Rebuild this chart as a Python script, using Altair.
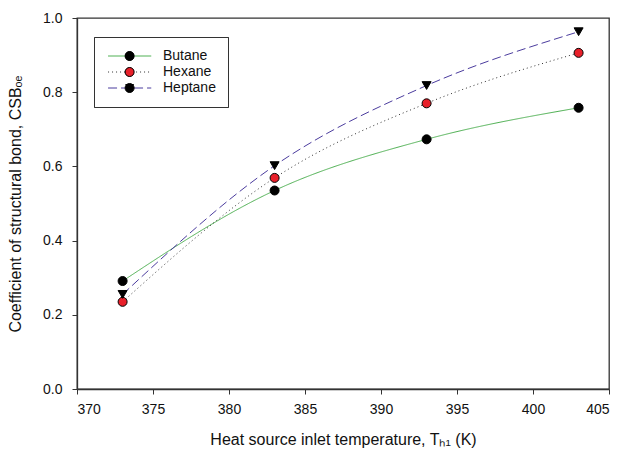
import altair as alt
import pandas as pd

temps = [373, 383, 393, 403]
butane = [0.291, 0.535, 0.673, 0.758]
hexane = [0.235, 0.569, 0.770, 0.906]
heptane = [0.255, 0.602, 0.818, 0.963]
series = ["Butane", "Hexane", "Heptane"]

line_colors = ["#4caf50", "#333333", "#4b3c9e"]
line_dashes = [[1, 0], [1, 3], [9, 4]]
marker_fills = ["#000000", "#e8202a", "#000000"]
marker_shapes = ["circle", "circle", "triangle-down"]

rows = []
for name, vals in zip(series, [butane, hexane, heptane]):
    for t, v in zip(temps, vals):
        rows.append({"T": t, "CSB": v, "Series": name, "Marker": name})
df = pd.DataFrame(rows)

FONT = "Liberation Sans"

# legend line colour looked up per entry
color_expr = " : ".join(
    f"datum.value === '{s}' ? '{c}'" for s, c in zip(series[:-1], line_colors[:-1])
) + f" : '{line_colors[-1]}'"

x = alt.X(
    "T:Q",
    scale=alt.Scale(domain=[370, 405], nice=False, zero=False),
    axis=alt.Axis(
        values=list(range(370, 406, 5)),
        title="Heat source inlet temperature, Tₕ₁ (K)",
        labelPadding=8,
        titlePadding=15,
    ),
)
y = alt.Y(
    "CSB:Q",
    scale=alt.Scale(domain=[0, 1], nice=False),
    axis=alt.Axis(
        values=[0, 0.2, 0.4, 0.6, 0.8, 1.0],
        format=".1f",
        title="Coefficient of structural bond, CSBₒₑ",
        labelPadding=10,
        titlePadding=19,
    ),
)

LX, LY = 17, 19

line_legend = alt.Legend(
    orient="none",
    legendX=LX,
    legendY=LY,
    title=None,
    symbolType="M-1.1,0H8.5",
    symbolSize=81,
    symbolStrokeWidth=1,
    symbolStrokeColor=alt.ExprRef(expr=color_expr),
    labelFont=FONT,
    labelFontSize=14,
    labelColor="#111111",
    labelOffset=43,
    strokeColor="#333333",
    fillColor="white",
    padding=12,
    rowPadding=2,
)

point_legend = alt.Legend(
    orient="none",
    legendX=LX + 16.6,
    legendY=LY,
    title=None,
    labelExpr="' '",
    symbolSize=81,
    symbolStrokeColor="black",
    symbolStrokeWidth=1,
    labelFontSize=14,
    labelOffset=26,
    padding=12,
    rowPadding=2,
)

lines = alt.Chart(df).mark_line(interpolate="monotone", strokeWidth=1).encode(
    x=x,
    y=y,
    color=alt.Color("Series:N", sort=series,
                    scale=alt.Scale(range=line_colors), legend=line_legend),
    strokeDash=alt.StrokeDash("Series:N", sort=series,
                              scale=alt.Scale(range=line_dashes), legend=line_legend),
)

points = alt.Chart(df).mark_point(filled=True, size=81, stroke="black", strokeWidth=1, opacity=1).encode(
    x=x,
    y=y,
    fill=alt.Fill("Marker:N", sort=series,
                  scale=alt.Scale(range=marker_fills), legend=point_legend),
    shape=alt.Shape("Marker:N", sort=series,
                    scale=alt.Scale(range=marker_shapes), legend=point_legend),
)

chart = alt.layer(lines, points).properties(
    width=532,
    height=371,
    autosize=alt.AutoSizeParams(type="none"),
    padding={"left": 69, "top": 10, "right": 23, "bottom": 65},
    background="white",
).configure_view(
    stroke="#333333", strokeWidth=1.3
).configure_axis(
    grid=False,
    domainColor="#333333",
    domainWidth=1.3,
    tickColor="#333333",
    tickSize=5,
    labelFont=FONT,
    labelFontSize=14,
    labelColor="#111111",
    titleFont=FONT,
    titleFontSize=16,
    titleFontWeight="normal",
    titleColor="#111111",
)

chart.save("out.html", embed_options={"renderer": "svg", "actions": False})
